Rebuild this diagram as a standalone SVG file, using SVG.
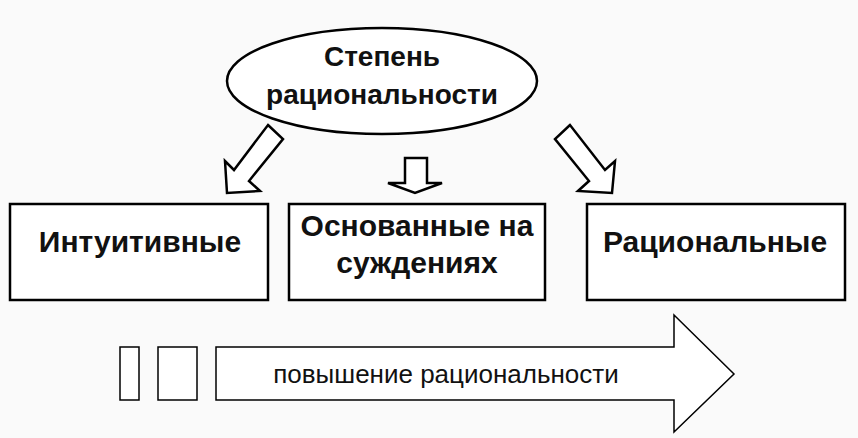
<svg xmlns="http://www.w3.org/2000/svg" width="858" height="438" viewBox="0 0 858 438">
<style>
.s{fill:#fff;stroke:#000;stroke-width:2.5}
.t{font-family:"Liberation Sans",Arial,sans-serif;font-weight:bold;font-size:30px;text-anchor:middle;fill:#111}
.e{font-size:28px}
.n{font-family:"Liberation Sans",Arial,sans-serif;font-size:26px;text-anchor:middle;fill:#111}
.h{fill:#fff;stroke:#000;stroke-width:1.5}
</style>
<rect width="858" height="438" fill="#fafafa"/>
<g id="root"><ellipse class="s" cx="382" cy="81" rx="155" ry="53"/>
<text class="t e" x="382" y="66">Степень</text><text class="t e" x="382" y="104">рациональности</text></g>
<g id="n1"><rect class="s" x="10" y="204" width="258" height="96"/><text class="t" x="140" y="252">Интуитивные</text></g>
<g id="n2"><rect class="s" x="289" y="204" width="256" height="96"/><text class="t" x="417" y="236">Основанные на</text><text class="t" x="417" y="273">суждениях</text></g>
<g id="n3"><rect class="s" x="587" y="204" width="258" height="96"/><text class="t" x="715" y="252">Рациональные</text></g>
<g id="connectors">
<polygon class="s" stroke-width="2" points="268,125 283,139 249,181 260,191 227,193 225,161 234,170"/>
<polygon class="s" stroke-width="2" points="405,158 427,158 427,183 442,183 415,193 388,183 405,183"/>
<polygon class="s" stroke-width="2" points="570,125 555,139 589,181 578,191 612,193 615,161 605,170"/>
</g>
<g id="scale">
<rect class="h" x="120" y="347" width="19" height="53"/>
<rect class="h" x="158" y="347" width="39" height="53"/>
<polygon class="h" points="216,347 674,347 674,315 734,374 674,432 674,400 216,400"/>
<text class="n" x="446" y="383">повышение рациональности</text>
</g>
</svg>
